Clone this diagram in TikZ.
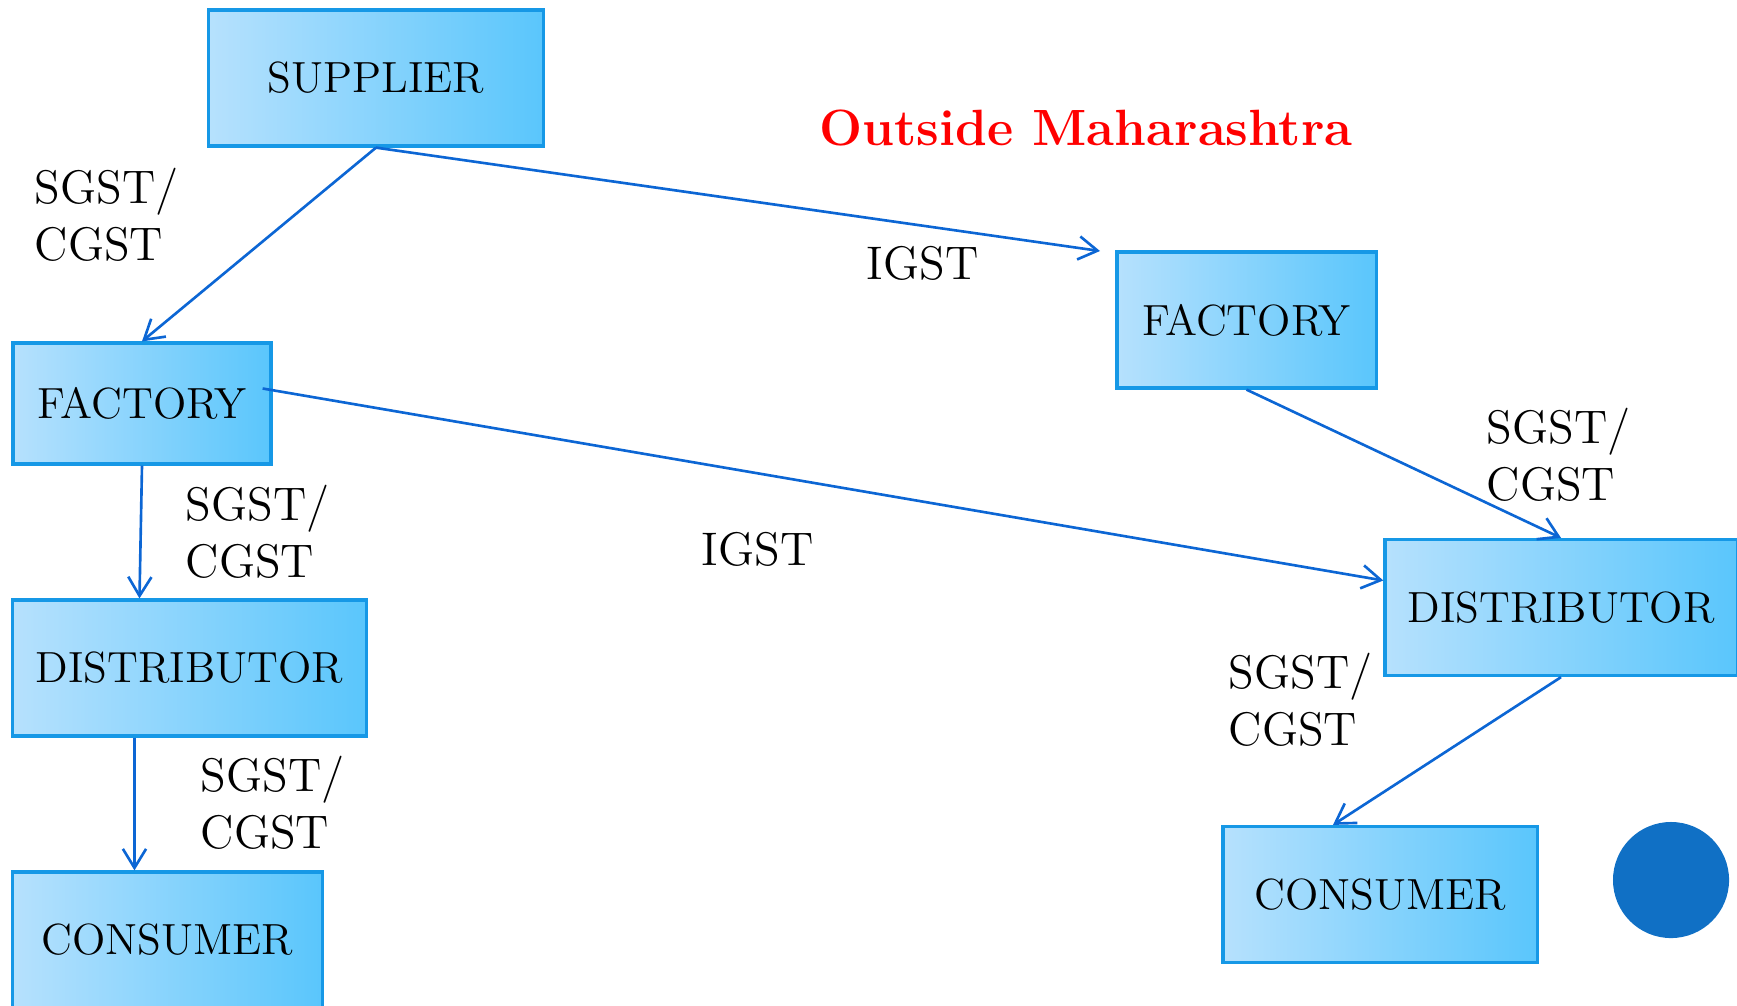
\documentclass[tikz,border=0pt]{standalone}
\usepackage{xcolor}
\usepackage{tikz}
\usetikzlibrary{arrows.meta}
\definecolor{boxedge}{RGB}{22,152,230}
\definecolor{boxlight}{RGB}{182,225,253}
\definecolor{boxdark}{RGB}{90,198,252}
\definecolor{flow}{RGB}{12,102,212}
\definecolor{dotblue}{RGB}{16,112,197}

\begin{document}
\begin{tikzpicture}[x=0.01cm,y=-0.01cm,>={Straight Barb[length=5.4pt,width=6.6pt]},
box/.style={draw=boxedge,line width=0.9pt,left color=boxlight,right color=boxdark,minimum height=1.36cm,inner sep=0pt,font=\fontsize{12.4}{15}\selectfont},
tax/.style={font=\fontsize{13.4}{16.2}\selectfont,align=left,inner sep=0pt,anchor=north west},
flowline/.style={draw=flow,line width=0.75pt,->}]
\useasboundingbox (0,0) rectangle (1737,1005);
\node[box,minimum width=3.34cm](sup)at(376,78){SUPPLIER};
\node[box,minimum width=2.58cm,minimum height=1.21cm](lfac)at(142,403.5){FACTORY};
\node[box,minimum width=3.53cm](ldis)at(189.5,668){DISTRIBUTOR};
\node[box,minimum width=3.09cm](lcon)at(167.5,940){CONSUMER};
\node[box,minimum width=2.59cm](rfac)at(1246.5,320){FACTORY};
\node[box,minimum width=3.52cm](rdis)at(1561,607.5){DISTRIBUTOR};
\node[box,minimum width=3.14cm](rcon)at(1380,894.5){CONSUMER};
\node[font=\fontsize{14.5}{17}\selectfont\bfseries,text=red,inner sep=0pt,anchor=base](title)at(1086,145){Outside Maharashtra};
\node[circle,fill=dotblue,minimum size=1.16cm,inner sep=0pt](dot)at(1671,880){};
\coordinate(igstend)at(1100,251);
\draw[flowline](sup.south)--(lfac.north);
\draw[flowline](sup.south)--(igstend);
\draw[flowline]([xshift=-0.1cm,yshift=0.15cm]lfac.east)--([yshift=0.27cm]rdis.west);
\draw[flowline](lfac.south)--([xshift=-0.5cm]ldis.north);
\draw[flowline]([xshift=-0.55cm]ldis.south)--([xshift=-0.55cm]ldis.south|-lcon.north);
\draw[flowline](rfac.south)--(rdis.north);
\draw[flowline](rdis.south)--([xshift=-0.47cm]rcon.north);
\node[tax](t1)at(34,167){SGST/\\CGST};
\node[tax](t2)at(185,484){SGST/\\CGST};
\node[tax](t3)at(200,755){SGST/\\CGST};
\node[tax](t4)at(1486,407){SGST/\\CGST};
\node[tax](t5)at(1228,652){SGST/\\CGST};
\node[tax,anchor=base west](i1)at(866,279){IGST};
\node[tax,anchor=base west](i2)at(701,565){IGST};
\end{tikzpicture}
\end{document}
